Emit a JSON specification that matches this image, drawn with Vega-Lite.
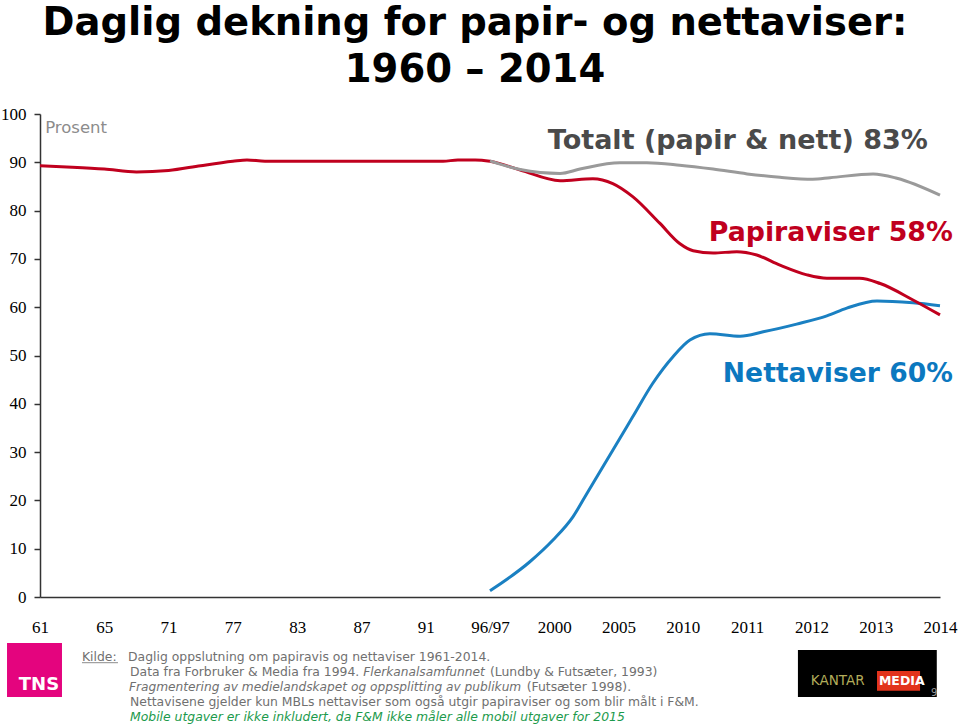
{
  "$schema": "https://vega.github.io/schema/vega-lite/v6.json",
  "width": 900,
  "height": 483,
  "autosize": {"type": "none"},
  "padding": {"left": 40, "top": 114, "right": 20, "bottom": 128},
  "background": "white",
  "config": {"view": {"stroke": null}},
  "title": {
    "text": ["Daglig dekning for papir- og nettaviser:", "1960 – 2014"],
    "font": "DejaVu Sans",
    "fontWeight": "bold",
    "fontSize": 38.5,
    "lineHeight": 47,
    "anchor": "middle",
    "frame": "group",
    "offset": 15,
    "dx": -15,
    "color": "#000000"
  },
  "datasets": {
    "lines": [
      {"serie": "Nettaviser", "x": 7.0, "y": 1.3},
      {"serie": "Nettaviser", "x": 7.62, "y": 7.3},
      {"serie": "Nettaviser", "x": 7.98, "y": 11.8},
      {"serie": "Nettaviser", "x": 8.29, "y": 16.6},
      {"serie": "Nettaviser", "x": 8.51, "y": 21.5},
      {"serie": "Nettaviser", "x": 8.91, "y": 30.4},
      {"serie": "Nettaviser", "x": 9.22, "y": 37.3},
      {"serie": "Nettaviser", "x": 9.53, "y": 44.2},
      {"serie": "Nettaviser", "x": 9.85, "y": 49.8},
      {"serie": "Nettaviser", "x": 10.11, "y": 53.2},
      {"serie": "Nettaviser", "x": 10.42, "y": 54.5},
      {"serie": "Nettaviser", "x": 10.89, "y": 54.0},
      {"serie": "Nettaviser", "x": 11.25, "y": 54.9},
      {"serie": "Nettaviser", "x": 11.77, "y": 56.5},
      {"serie": "Nettaviser", "x": 12.24, "y": 58.2},
      {"serie": "Nettaviser", "x": 12.55, "y": 59.8},
      {"serie": "Nettaviser", "x": 13.02, "y": 61.3},
      {"serie": "Nettaviser", "x": 13.58, "y": 60.9},
      {"serie": "Nettaviser", "x": 14.0, "y": 60.3},
      {"serie": "Papiraviser", "x": 0.0, "y": 89.3},
      {"serie": "Papiraviser", "x": 0.5, "y": 89.0},
      {"serie": "Papiraviser", "x": 1.0, "y": 88.6},
      {"serie": "Papiraviser", "x": 1.5, "y": 88.0},
      {"serie": "Papiraviser", "x": 2.0, "y": 88.3},
      {"serie": "Papiraviser", "x": 2.5, "y": 89.3},
      {"serie": "Papiraviser", "x": 3.0, "y": 90.2},
      {"serie": "Papiraviser", "x": 3.22, "y": 90.5},
      {"serie": "Papiraviser", "x": 3.5, "y": 90.2},
      {"serie": "Papiraviser", "x": 4.0, "y": 90.2},
      {"serie": "Papiraviser", "x": 5.0, "y": 90.2},
      {"serie": "Papiraviser", "x": 6.0, "y": 90.2},
      {"serie": "Papiraviser", "x": 6.27, "y": 90.2},
      {"serie": "Papiraviser", "x": 6.5, "y": 90.5},
      {"serie": "Papiraviser", "x": 6.77, "y": 90.5},
      {"serie": "Papiraviser", "x": 7.0, "y": 90.2},
      {"serie": "Papiraviser", "x": 7.47, "y": 88.4},
      {"serie": "Papiraviser", "x": 8.09, "y": 86.2},
      {"serie": "Papiraviser", "x": 8.6, "y": 86.6},
      {"serie": "Papiraviser", "x": 8.91, "y": 85.6},
      {"serie": "Papiraviser", "x": 9.22, "y": 82.9},
      {"serie": "Papiraviser", "x": 9.64, "y": 77.4},
      {"serie": "Papiraviser", "x": 9.95, "y": 73.2},
      {"serie": "Papiraviser", "x": 10.16, "y": 71.7},
      {"serie": "Papiraviser", "x": 10.47, "y": 71.2},
      {"serie": "Papiraviser", "x": 10.84, "y": 71.5},
      {"serie": "Papiraviser", "x": 11.15, "y": 70.8},
      {"serie": "Papiraviser", "x": 11.51, "y": 68.7},
      {"serie": "Papiraviser", "x": 11.93, "y": 66.7},
      {"serie": "Papiraviser", "x": 12.24, "y": 66.0},
      {"serie": "Papiraviser", "x": 12.75, "y": 66.0},
      {"serie": "Papiraviser", "x": 13.07, "y": 64.9},
      {"serie": "Papiraviser", "x": 13.58, "y": 61.5},
      {"serie": "Papiraviser", "x": 14.0, "y": 58.4},
      {"serie": "Totalt", "x": 7.0, "y": 90.3},
      {"serie": "Totalt", "x": 7.47, "y": 88.5},
      {"serie": "Totalt", "x": 8.09, "y": 87.7},
      {"serie": "Totalt", "x": 8.4, "y": 88.6},
      {"serie": "Totalt", "x": 9.02, "y": 89.9},
      {"serie": "Totalt", "x": 9.44, "y": 89.9},
      {"serie": "Totalt", "x": 9.95, "y": 89.4},
      {"serie": "Totalt", "x": 10.47, "y": 88.6},
      {"serie": "Totalt", "x": 11.0, "y": 87.6},
      {"serie": "Totalt", "x": 11.51, "y": 86.9},
      {"serie": "Totalt", "x": 12.02, "y": 86.5},
      {"serie": "Totalt", "x": 12.29, "y": 86.8},
      {"serie": "Totalt", "x": 12.96, "y": 87.6},
      {"serie": "Totalt", "x": 13.33, "y": 86.7},
      {"serie": "Totalt", "x": 14.0, "y": 83.2}
    ]
  },
  "encoding": {
    "x": {
      "field": "x",
      "type": "quantitative",
      "scale": {"domain": [0, 14], "nice": false, "zero": false},
      "axis": {
        "title": null,
        "values": [0, 1, 2, 3, 4, 5, 6, 7, 8, 9, 10, 11, 12, 13, 14],
        "labelExpr": "['61','65','71','77','83','87','91','96/97','2000','2005','2010','2011','2012','2013','2014'][datum.value]",
        "ticks": false,
        "tickSize": 0,
        "grid": false,
        "domainColor": "#333333",
        "domainWidth": 1.5,
        "labelFont": "Liberation Serif",
        "labelFontSize": 17,
        "labelColor": "#000000",
        "labelPadding": 22,
        "labelAngle": 0,
        "labelFlush": false,
        "labelOverlap": false
      }
    },
    "y": {
      "field": "y",
      "type": "quantitative",
      "scale": {"domain": [0, 100], "nice": false},
      "axis": {
        "title": null,
        "values": [0, 10, 20, 30, 40, 50, 60, 70, 80, 90, 100],
        "grid": false,
        "tickSize": 6,
        "tickColor": "#333333",
        "tickWidth": 1.5,
        "domainColor": "#333333",
        "domainWidth": 1.5,
        "labelFont": "Liberation Serif",
        "labelFontSize": 17,
        "labelColor": "#000000",
        "labelPadding": 8
      }
    }
  },
  "layer": [
    {
      "data": {"name": "lines"},
      "transform": [{"filter": "datum.serie === 'Nettaviser'"}],
      "mark": {"type": "line", "strokeWidth": 3, "interpolate": "monotone", "color": "#1a80c2"},
      "encoding": {}
    },
    {
      "data": {"name": "lines"},
      "transform": [{"filter": "datum.serie === 'Papiraviser'"}],
      "mark": {"type": "line", "strokeWidth": 3, "interpolate": "monotone", "color": "#c0001e"},
      "encoding": {}
    },
    {
      "data": {"name": "lines"},
      "transform": [{"filter": "datum.serie === 'Totalt'"}],
      "mark": {"type": "line", "strokeWidth": 3, "interpolate": "monotone", "color": "#9a9a9a"},
      "encoding": {}
    },
    {
      "data": {"values": [{"x": 13.81, "y": 94.4, "t": "Totalt (papir & nett) 83%"}]},
      "mark": {"type": "text", "align": "right", "baseline": "middle", "font": "DejaVu Sans", "fontWeight": "bold", "fontSize": 27, "color": "#4a4a4a"},
      "encoding": {"text": {"field": "t"}}
    },
    {
      "data": {"values": [{"x": 14.2, "y": 75.4, "t": "Papiraviser 58%"}]},
      "mark": {"type": "text", "align": "right", "baseline": "middle", "font": "DejaVu Sans", "fontWeight": "bold", "fontSize": 26.8, "color": "#c0001e"},
      "encoding": {"text": {"field": "t"}}
    },
    {
      "data": {"values": [{"x": 14.2, "y": 46.2, "t": "Nettaviser 60%"}]},
      "mark": {"type": "text", "align": "right", "baseline": "middle", "font": "DejaVu Sans", "fontWeight": "bold", "fontSize": 26.6, "color": "#0b78bf"},
      "encoding": {"text": {"field": "t"}}
    },
    {
      "data": {"values": [{"x": 0.08, "y": 97.1, "t": "Prosent"}]},
      "mark": {"type": "text", "align": "left", "baseline": "middle", "font": "DejaVu Sans", "fontSize": 16.5, "color": "#8c8c8c"},
      "encoding": {"text": {"field": "t"}}
    },
    {
      "data": {"values": [
        {"x": 0.653, "y": -12.42, "t": "Kilde:"},
        {"x": 1.369, "y": -12.42, "t": "Daglig oppslutning om papiravis og nettaviser 1961-2014."},
        {"x": 1.40, "y": -15.53, "t": "Data fra Forbruker & Media fra 1994."},
        {"x": 7.0, "y": -15.53, "t": "(Lundby & Futsæter, 1993)"},
        {"x": 7.57, "y": -18.63, "t": "(Futsæter 1998)."},
        {"x": 1.40, "y": -21.74, "t": "Nettavisene gjelder kun  MBLs nettaviser som også utgir papiraviser og som blir målt i F&M."}
      ]},
      "mark": {"type": "text", "align": "left", "baseline": "middle", "font": "DejaVu Sans", "fontSize": 12.4, "color": "#707070"},
      "encoding": {"text": {"field": "t"}}
    },
    {
      "data": {"values": [
        {"x": 5.03, "y": -15.53, "t": "Flerkanalsamfunnet"},
        {"x": 1.384, "y": -18.63, "t": "Fragmentering av medielandskapet og oppsplitting av publikum"}
      ]},
      "mark": {"type": "text", "align": "left", "baseline": "middle", "font": "DejaVu Sans", "fontStyle": "italic", "fontSize": 12.2, "color": "#707070"},
      "encoding": {"text": {"field": "t"}}
    },
    {
      "data": {"values": [
        {"x": 1.40, "y": -24.84, "t": "Mobile utgaver er ikke inkludert, da F&M ikke måler alle mobil utgaver for 2015"}
      ]},
      "mark": {"type": "text", "align": "left", "baseline": "middle", "font": "DejaVu Sans", "fontStyle": "italic", "fontSize": 12.4, "color": "#1c9a4c"},
      "encoding": {"text": {"field": "t"}}
    },
    {
      "data": {"values": [{"x": 0.653, "x2": 1.213, "y": -13.6}]},
      "mark": {"type": "rule", "color": "#8c8c8c", "strokeWidth": 1},
      "encoding": {"x2": {"field": "x2"}}
    },
    {
      "data": {"values": [{"x": -0.513, "x2": 0.342, "y": -9.52, "y2": -20.7}]},
      "mark": {"type": "rect", "color": "#e4047e"},
      "encoding": {"x2": {"field": "x2"}, "y2": {"field": "y2"}}
    },
    {
      "data": {"values": [{"x": -0.016, "y": -18.2, "t": "TNS"}]},
      "mark": {"type": "text", "align": "center", "baseline": "middle", "font": "DejaVu Sans", "fontWeight": "bold", "fontSize": 18, "color": "#ffffff"},
      "encoding": {"text": {"field": "t"}}
    },
    {
      "data": {"values": [{"x": 11.79, "x2": 13.95, "y": -10.97, "y2": -20.7}]},
      "mark": {"type": "rect", "color": "#000000"},
      "encoding": {"x2": {"field": "x2"}, "y2": {"field": "y2"}}
    },
    {
      "data": {"values": [{"x": 13.02, "x2": 13.69, "y": -15.3, "y2": -19.4}]},
      "mark": {"type": "rect", "color": "#e2331c"},
      "encoding": {"x2": {"field": "x2"}, "y2": {"field": "y2"}}
    },
    {
      "data": {"values": [{"x": 11.99, "y": -17.4, "t": "KANTAR"}]},
      "mark": {"type": "text", "align": "left", "baseline": "middle", "font": "DejaVu Sans", "fontSize": 13.5, "color": "#b3ad5a"},
      "encoding": {"text": {"field": "t"}}
    },
    {
      "data": {"values": [{"x": 13.05, "y": -17.4, "t": "MEDIA"}]},
      "mark": {"type": "text", "align": "left", "baseline": "middle", "font": "DejaVu Sans", "fontWeight": "bold", "fontSize": 12.5, "color": "#ffffff"},
      "encoding": {"text": {"field": "t"}}
    },
    {
      "data": {"values": [{"x": 13.91, "y": -19.9, "t": "9"}]},
      "mark": {"type": "text", "align": "center", "baseline": "middle", "font": "DejaVu Sans", "fontSize": 10, "color": "#9a9a9a"},
      "encoding": {"text": {"field": "t"}}
    }
  ]
}
